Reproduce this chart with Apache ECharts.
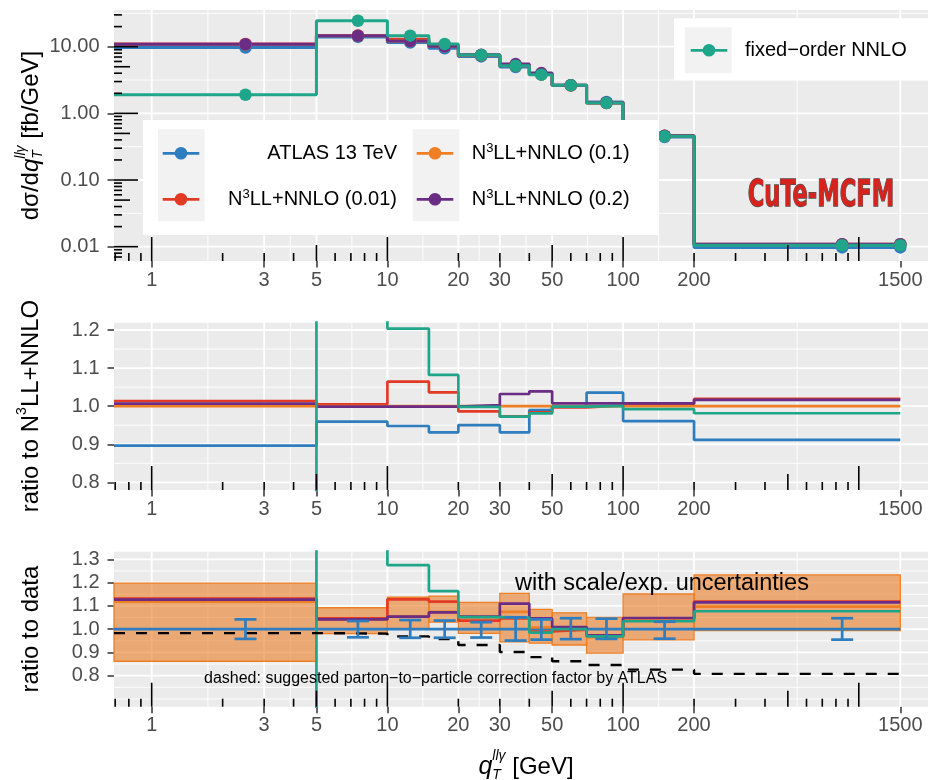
<!DOCTYPE html>
<html><head><meta charset="utf-8">
<script src="https://cdn.jsdelivr.net/npm/echarts@6/dist/echarts.min.js"></script>
<style>html,body{margin:0;padding:0;background:#fff}#chart{width:928px;height:780px}</style>
</head><body><div id="chart"></div>
<script>
// ---------------- data ----------------
const binEdges   = [0, 5, 10, 15, 20, 30, 40, 50, 70, 100, 200, 1500];
const binCenters = [2.5, 7.5, 12.5, 17.5, 25, 35, 45, 60, 85, 150, 850];
const xTickLabels = [1, 3, 5, 10, 20, 30, 50, 100, 200, 1500];
const yTopTicks = [0.01, 0.1, 1, 10];
const yMidTicks = [0.8, 0.9, 1.0, 1.1, 1.2];
const yBotTicks = [0.8, 0.9, 1.0, 1.1, 1.2, 1.3];

const seriesNames = ['ATLAS 13 TeV', 'N3LL+NNLO (0.01)', 'N3LL+NNLO (0.1)', 'N3LL+NNLO (0.2)', 'fixed\u2212order NNLO'];

// top panel: dsigma/dqT [fb/GeV]
const topAtlas   = [9.70, 14.0, 11.52, 9.45, 7.15, 4.95, 3.83, 2.63, 1.48, 0.440, 0.00975];
const topN3LL001 = [10.97, 14.67, 12.93, 10.52, 7.42, 5.18, 3.81, 2.62, 1.43, 0.460, 0.0109];
const topN3LL01  = [10.82, 14.60, 12.15, 10.15, 7.52, 5.32, 3.87, 2.63, 1.43, 0.458, 0.0107];
const topN3LL02  = [10.89, 14.58, 12.14, 10.14, 7.54, 5.49, 4.02, 2.65, 1.44, 0.461, 0.0109];
const topNNLO    = [1.90, 24.5, 14.62, 10.98, 7.50, 5.17, 3.80, 2.63, 1.43, 0.455, 0.0105];

// middle panel: ratio to N3LL+NNLO (0.1)
const midAtlas   = [0.8963, 0.9593, 0.948, 0.9313, 0.9505, 0.9313, 0.990, 0.999, 1.0354, 0.961, 0.9113];
const midN3LL001 = [1.0136, 1.005, 1.0645, 1.0364, 0.9862, 0.973, 0.984, 0.997, 1.002, 1.005, 1.019];
const midN3LL01  = [1.0, 1.0, 1.0, 1.0, 1.0, 1.0, 1.0, 1.0, 1.0, 1.0, 1.0];
const midN3LL02  = [1.0066, 0.9988, 0.9988, 0.9986, 1.003, 1.032, 1.039, 1.0076, 1.0076, 1.0076, 1.0163];
const midNNLO    = [0.176, 1.68, 1.2035, 1.082, 0.998, 0.9724, 0.981, 0.9986, 1.001, 0.9925, 0.9814];

// bottom panel: ratio to data
const botAtlas   = [1, 1, 1, 1, 1, 1, 1, 1, 1, 1, 1];
const botN3LL001 = [1.131, 1.046, 1.128, 1.118, 1.037, 1.046, 0.990, 0.998, 0.969, 1.046, 1.118];
const botN3LL01  = [1.118, 1.042, 1.055, 1.074, 1.052, 1.074, 1.007, 1.001, 0.966, 1.041, 1.097];
const botN3LL02  = [1.127, 1.042, 1.054, 1.072, 1.054, 1.110, 1.046, 1.009, 0.973, 1.048, 1.115];
const botNNLO    = [0.196, 1.75, 1.275, 1.163, 1.052, 1.050, 0.985, 1.000, 0.969, 1.034, 1.077];
const botCorrection = [0.983, 0.981, 0.969, 0.958, 0.932, 0.902, 0.880, 0.862, 0.846, 0.826, 0.808];
const bandLow  = [0.862, 0.981, 1.000, 1.030, 0.982, 0.945, 0.940, 0.932, 0.897, 0.954, 0.994];
const bandHigh = [1.198, 1.092, 1.137, 1.142, 1.115, 1.154, 1.085, 1.070, 1.051, 1.151, 1.233];
const errLow   = [0.958, 0.965, 0.963, 0.963, 0.964, 0.951, 0.955, 0.957, 0.958, 0.959, 0.955];
const errHigh  = [1.042, 1.035, 1.039, 1.037, 1.030, 1.051, 1.042, 1.047, 1.045, 1.032, 1.047];

// grid-line positions (ggplot major / minor breaks)
const xMajorGrid = [1, 3, 5, 10, 20, 30, 50, 100, 200, 1500];
const yTopMajorGrid = [0.01, 0.1, 1, 10];
const yTopMinorGrid = [0.0316, 0.316, 3.16, 31.6];
const yMidMinorGrid = [0.85, 0.95, 1.05, 1.15];
const yBotMinorGrid = [0.7, 0.75, 0.85, 0.95, 1.05, 1.15, 1.25];

// ---------------- styling / layout ----------------
const X_MIN = 0.692, X_MAX = 1966;
const COL = ['#2D7DBF', '#E33A26', '#EE7F24', '#6A2C85', '#1FA68A'];
const FONT = '"Liberation Sans", Arial, Helvetica, sans-serif';
const LEFT = 114;
const GRIDS = [
  {left: LEFT, right: 0, top: 10, height: 251},
  {left: LEFT, right: 0, top: 322.7, height: 167.3},
  {left: LEFT, right: 0, top: 551.7, height: 155}
];

const xMinorGrid = xMajorGrid.slice(1).map((v, i) => Math.sqrt(v * xMajorGrid[i]));

const plotEdge = e => (e <= 0 ? X_MIN : e);
function stepData(vals) {
  const d = vals.map((v, i) => [plotEdge(binEdges[i]), v]);
  d.push([binEdges[binEdges.length - 1], vals[vals.length - 1]]);
  return d;
}
function stepSeries(name, vals, color, gi, width, extra) {
  return Object.assign({
    type: 'line', name: name, xAxisIndex: gi, yAxisIndex: gi, data: stepData(vals),
    step: 'end', showSymbol: false, symbol: 'none', clip: true, silent: true,
    lineStyle: {color: color, width: width}, itemStyle: {color: color}, z: 3
  }, extra || {});
}
function pointSeries(name, vals, color) {
  const d = vals.map((v, i) => [binCenters[i], v]);
  d.push([binEdges[binEdges.length - 1], vals[vals.length - 1]]);
  return {type: 'scatter', name: name, xAxisIndex: 0, yAxisIndex: 0, data: d, symbol: 'circle',
    symbolSize: 12.5, itemStyle: {color: color, opacity: 1, borderWidth: 0}, z: 4, silent: true};
}

function gridLineSeries(gi, yMajor, yMinor) {
  const data = [];
  xMinorGrid.forEach(v => data.push([v, 2]));
  yMinor.forEach(v => data.push([v, 4]));
  xMajorGrid.forEach(v => data.push([v, 1]));
  yMajor.forEach(v => data.push([v, 3]));
  return {
    type: 'custom', xAxisIndex: gi, yAxisIndex: gi, silent: true, z: 1, data: data,
    renderItem: function (params, api) {
      const cs = params.coordSys, v = api.value(0), k = api.value(1);
      const w = (k === 1 || k === 3) ? 1.8 : 0.9;
      if (k <= 2) {
        const x = api.coord([v, 1])[0];
        return {type: 'line', shape: {x1: x, y1: cs.y, x2: x, y2: cs.y + cs.height}, style: {stroke: '#FFFFFF', lineWidth: w}};
      }
      const y = api.coord([10, v])[1];
      return {type: 'line', shape: {x1: cs.x, y1: y, x2: cs.x + cs.width, y2: y}, style: {stroke: '#FFFFFF', lineWidth: w}};
    }
  };
}

function logTickList(lo, hi, side) {
  const out = [];
  for (let d = -4; d <= 4; d++) for (let k = 1; k <= 9; k++) {
    const v = k * Math.pow(10, d);
    if (v >= lo && v <= hi) out.push([v, k, side]);
  }
  return out;
}
function logTickSeries(gi, data) {
  return {
    type: 'custom', xAxisIndex: gi, yAxisIndex: gi, silent: true, z: 10, data: data,
    dimensions: ['v', 'k', 's'], encode: {x: 0, y: 1},
    renderItem: function (params, api) {
      const cs = params.coordSys, v = api.value(0), k = api.value(1), s = api.value(2);
      const len = k === 1 ? 24 : (k === 5 ? 16 : 8);
      if (s === 1) {
        const x = api.coord([v, 1])[0], y0 = cs.y + cs.height;
        return {type: 'line', shape: {x1: x, y1: y0, x2: x, y2: y0 - len}, style: {stroke: '#000', lineWidth: 1.6}};
      }
      const y = api.coord([10, v])[1];
      return {type: 'line', shape: {x1: cs.x, y1: y, x2: cs.x + len, y2: y}, style: {stroke: '#000', lineWidth: 1.6}};
    }
  };
}

function xAxisOpt(gi) {
  return {
    type: 'log', logBase: 10, gridIndex: gi, min: X_MIN, max: X_MAX,
    axisLine: {show: false}, splitLine: {show: false}, minorTick: {show: false}, minorSplitLine: {show: false},
    axisTick: {show: true, customValues: xTickLabels, length: 6.5, lineStyle: {color: '#333333', width: 1.5}},
    axisLabel: {customValues: xTickLabels, formatter: v => String(Math.round(v)), color: '#4D4D4D',
      fontSize: 20, fontFamily: FONT, margin: 9}
  };
}
function yAxisOpt(gi, type, min, max, ticks, fmt) {
  const o = {
    type: type, gridIndex: gi, min: min, max: max,
    axisLine: {show: false}, splitLine: {show: false}, minorTick: {show: false}, minorSplitLine: {show: false},
    axisTick: {show: true, customValues: ticks, length: 6.5, lineStyle: {color: '#333333', width: 1.5}},
    axisLabel: {customValues: ticks, formatter: fmt, color: '#4D4D4D', fontSize: 20, fontFamily: FONT, margin: 14.5}
  };
  if (type === 'log') o.logBase = 10;
  return o;
}

// ---------------- series ----------------
const topVals = [topAtlas, topN3LL001, topN3LL01, topN3LL02, topNNLO];
const midVals = [midAtlas, midN3LL001, midN3LL01, midN3LL02, midNNLO];
const botVals = [botAtlas, botN3LL001, botN3LL01, botN3LL02, botNNLO];

const series = [];
series.push(gridLineSeries(0, yTopMajorGrid, yTopMinorGrid));
series.push(gridLineSeries(1, yMidTicks, yMidMinorGrid));
series.push(gridLineSeries(2, yBotTicks, yBotMinorGrid));

topVals.forEach((v, i) => series.push(stepSeries(seriesNames[i], v, COL[i], 0, 3)));
topVals.forEach((v, i) => series.push(pointSeries(seriesNames[i], v, COL[i])));
midVals.forEach((v, i) => series.push(stepSeries(seriesNames[i], v, COL[i], 1, 2.7)));

// band
series.push({
  type: 'custom', xAxisIndex: 2, yAxisIndex: 2, silent: true, z: 2,
  dimensions: ['x0', 'x1', 'lo', 'hi'], encode: {x: [0, 1], y: [2, 3]},
  data: bandLow.map((lo, i) => [plotEdge(binEdges[i]), binEdges[i + 1], lo, bandHigh[i]]),
  renderItem: function (params, api) {
    const a = api.coord([api.value(0), api.value(3)]);
    const b = api.coord([api.value(1), api.value(2)]);
    return {type: 'rect', shape: {x: a[0], y: a[1], width: b[0] - a[0], height: b[1] - a[1]},
      style: {fill: 'rgba(234,124,36,0.6)', stroke: '#EE7F24', lineWidth: 1.3}};
  }
});
botVals.forEach((v, i) => series.push(stepSeries(seriesNames[i], v, COL[i], 2, 2.7)));
series.push(stepSeries('parton-to-particle correction', botCorrection, '#000000', 2, 2.4,
  {lineStyle: {color: '#000000', width: 2.4, type: [11, 11]}, z: 3}));
// error bars
series.push({
  type: 'custom', xAxisIndex: 2, yAxisIndex: 2, silent: true, z: 5,
  dimensions: ['x', 'lo', 'hi'], encode: {x: 0, y: [1, 2]},
  data: errLow.map((lo, i) => [binCenters[i], lo, errHigh[i]]),
  renderItem: function (params, api) {
    const p0 = api.coord([api.value(0), api.value(1)]);
    const p1 = api.coord([api.value(0), api.value(2)]);
    const hw = 11, st = {stroke: COL[0], lineWidth: 2.7};
    return {type: 'group', children: [
      {type: 'line', shape: {x1: p0[0], y1: p0[1], x2: p1[0], y2: p1[1]}, style: st},
      {type: 'line', shape: {x1: p0[0] - hw, y1: p0[1], x2: p0[0] + hw, y2: p0[1]}, style: st},
      {type: 'line', shape: {x1: p1[0] - hw, y1: p1[1], x2: p1[0] + hw, y2: p1[1]}, style: st}
    ]};
  }
});

series.push(logTickSeries(0, logTickList(X_MIN, X_MAX, 1).concat(logTickList(0.0061, 35.5, 2))));
series.push(logTickSeries(1, logTickList(X_MIN, X_MAX, 1)));
series.push(logTickSeries(2, logTickList(X_MIN, X_MAX, 1)));

// ---------------- text helpers ----------------
const mctx = document.createElement('canvas').getContext('2d');
function fontStr(s, it) { return (it ? 'italic ' : '') + s + 'px ' + FONT; }
function tw(t, s, it) { mctx.font = fontStr(s, it); return mctx.measureText(t).width; }
function txt(x, y, text, font, align, extra) {
  return Object.assign({type: 'text', x: x, y: y, z: 100,
    style: Object.assign({text: text, font: font, fill: '#000000', align: align, verticalAlign: 'middle',
      textAlign: align, textVerticalAlign: 'middle'}, extra || {})});
}
function composite(parts, cx, cy, rot) {
  const items = []; let x = 0;
  parts.forEach(p => {
    const list = p.stack || [p];
    let wmax = 0;
    list.forEach(q => {
      wmax = Math.max(wmax, tw(q.t, q.s, q.it));
      items.push({x: x, q: q});
    });
    x += wmax;
  });
  const children = items.map(o => txt(o.x - x / 2, o.q.dy || 0, o.q.t, fontStr(o.q.s, o.q.it), 'left'));
  return {type: 'group', x: cx, y: cy, rotation: rot || 0, z: 100, children: children};
}
const supRich = {sup: {fontSize: 13, fontFamily: FONT, padding: [0, 0, 10, 0]}};
function n3Label(name) { return name.replace('N3', 'N{sup|3}'); }

// ---------------- graphics (legends, titles, notes) ----------------
const graphics = [];
// legend 1
graphics.push({type: 'rect', z: 99, shape: {x: 143, y: 120, width: 516, height: 115}, style: {fill: '#FFFFFF'}});
graphics.push({type: 'rect', z: 99, shape: {x: 158, y: 129.3, width: 46.7, height: 92}, style: {fill: '#F2F2F2'}});
graphics.push({type: 'rect', z: 99, shape: {x: 412.7, y: 129.3, width: 46.7, height: 92}, style: {fill: '#F2F2F2'}});
// legend 2
graphics.push({type: 'rect', z: 99, shape: {x: 674, y: 18.3, width: 260, height: 62}, style: {fill: '#FFFFFF'}});
graphics.push({type: 'rect', z: 99, shape: {x: 685, y: 27.3, width: 46.7, height: 46}, style: {fill: '#F2F2F2'}});

const legendItems = [
  {i: 0, kx: 162.7, ky: 153.3, tx: 397, align: 'right'},
  {i: 1, kx: 162.7, ky: 199.3, tx: 397, align: 'right'},
  {i: 2, kx: 416.7, ky: 153.3, tx: 471.7, align: 'left'},
  {i: 3, kx: 416.7, ky: 199.3, tx: 471.7, align: 'left'},
  {i: 4, kx: 690.7, ky: 50.3, tx: 745, align: 'left'}
];
legendItems.forEach(it => {
  graphics.push({type: 'line', z: 100, shape: {x1: it.kx, y1: it.ky, x2: it.kx + 36.6, y2: it.ky}, style: {stroke: COL[it.i], lineWidth: 2.8}});
  graphics.push({type: 'circle', z: 100, shape: {cx: it.kx + 18.3, cy: it.ky, r: 6.3}, style: {fill: COL[it.i]}});
  graphics.push(txt(it.tx, it.ky, n3Label(seriesNames[it.i]), '20px ' + FONT, it.align, {rich: supRich}));
});

// logo
graphics.push({type: 'text', x: 821, y: 196, scaleX: 0.68, scaleY: 1.0, z: 100,
  style: {text: 'CuTe-MCFM', font: 'bold 37px "Liberation Sans Narrow", "DejaVu Sans Condensed", sans-serif',
    fill: '#D6231E', stroke: '#505050', lineWidth: 1.3, align: 'center', verticalAlign: 'middle',
    textAlign: 'center', textVerticalAlign: 'middle'}});

// annotations
graphics.push(txt(515, 583.3, 'with scale/exp. uncertainties', '23.5px ' + FONT, 'left'));
graphics.push(txt(204, 679, 'dashed: suggested parton\u2212to\u2212particle correction factor by ATLAS', '16px ' + FONT, 'left'));

// axis titles
const R = Math.PI / 2;
graphics.push(composite([
  {t: 'd\u03C3/d', s: 24}, {t: 'q', s: 24, it: true},
  {stack: [{t: 'T', s: 14, it: true, dy: 7}, {t: 'll\u03B3', s: 14, it: true, dy: -10}]},
  {t: ' [fb/GeV]', s: 24}
], 31, 135.5, R));
graphics.push(composite([
  {t: 'ratio to N', s: 24}, {t: '3', s: 14, dy: -9}, {t: 'LL+NNLO', s: 24}
], 31, 406, R));
graphics.push(composite([{t: 'ratio to data', s: 24}], 31, 629, R));
graphics.push(composite([
  {t: 'q', s: 25, it: true},
  {stack: [{t: 'T', s: 14, it: true, dy: 8}, {t: 'll\u03B3', s: 14, it: true, dy: -11}]},
  {t: ' [GeV]', s: 24}
], 526, 767, 0));

// ---------------- chart ----------------
const chart = echarts.init(document.getElementById('chart'), null, {renderer: 'canvas', width: 928, height: 780});
chart.setOption({
  animation: false,
  backgroundColor: '#FFFFFF',
  textStyle: {fontFamily: FONT},
  grid: GRIDS.map(g => Object.assign({show: true, backgroundColor: '#EBEBEB', borderWidth: 0, containLabel: false, outerBoundsMode: 'none'}, g)),
  xAxis: [xAxisOpt(0), xAxisOpt(1), xAxisOpt(2)],
  yAxis: [
    yAxisOpt(0, 'log', 0.0061, 35.5, yTopTicks, v => Number(v).toFixed(2)),
    yAxisOpt(1, 'value', 0.7799, 1.2192, yMidTicks, v => Number(v).toFixed(1)),
    yAxisOpt(2, 'value', 0.6668, 1.3328, yBotTicks, v => Number(v).toFixed(1))
  ],
  series: series,
  graphic: {elements: graphics}
});
</script>
</body></html>
